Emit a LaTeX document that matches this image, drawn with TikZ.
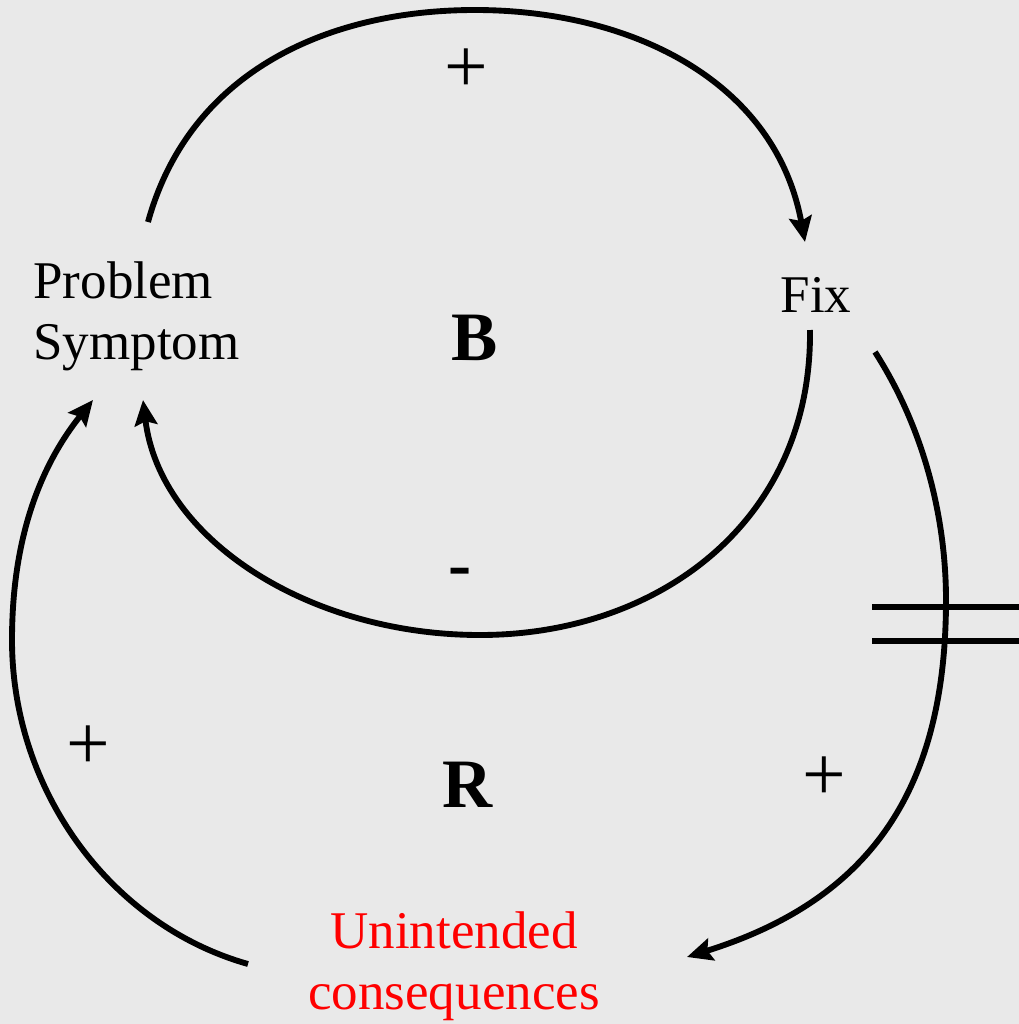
\documentclass[tikz,border=0pt]{standalone}
\usepackage{fontspec}
\setmainfont{Liberation Serif}
\usetikzlibrary{arrows.meta}
\definecolor{bgpaper}{RGB}{233,233,233}
\definecolor{redtxt}{RGB}{255,0,0}
\begin{document}
\begin{tikzpicture}[x=0.75pt,y=-0.75pt,
  loopline/.style={line width=4.4pt, line cap=butt},
  arr/.style={loopline, -{Stealth[length=19pt,width=17pt,inset=3pt]}},
  lbl/.style={inner sep=0pt, font=\fontsize{39.75}{46}\selectfont},
  big/.style={inner sep=0pt, font=\fontsize{52}{60}\selectfont\bfseries},
  sgn/.style={inner sep=0pt, font=\fontsize{58}{66}\selectfont},
  hash/.style={line width=4.6pt}]
\fill[bgpaper] (0,0) rectangle (1019,1024);
\useasboundingbox (0,0) rectangle (1019,1024);

% labels
\node[lbl, align=left] (ps) at (136.5,316) {Problem\\Symptom};
\node[lbl] (fix) at (816,295) {Fix};
\node[lbl, align=center, text=redtxt] (uc) at (454,966) {Unintended\\consequences};
\node[big] (B) at (475,337.5) {B};
\node[big] (R) at (468,785) {R};
\node[sgn] (ptop) at (466,71) {+};
\node[sgn] (pleft) at (88,748) {+};
\node[sgn] (pright) at (824,779) {+};
\node[big] (minus) at (460,578) {-};

% connector end points
\coordinate (a1) at (148,222);
\coordinate (a2) at (805,242);
\coordinate (b1) at (810,330);
\coordinate (b2) at (143,400);
\coordinate (c1) at (875,352);
\coordinate (c2) at (687,957);
\coordinate (d1) at (248,964);
\coordinate (d2) at (93,400);

% Problem symptom -> Fix (+)
\draw[arr] (a1) .. controls (190,70) and (330,10) .. (475,10)
                .. controls (630,10) and (775,80) .. (a2);
% Fix -> Problem symptom (-)
\draw[arr] (b1) .. controls (812,520) and (660,635) .. (480,635)
                .. controls (310,635) and (160,540) .. (b2);
% Fix -> Unintended consequences (+, delayed)
\draw[arr] (c1) .. controls (925,430) and (946,520) .. (946,600)
                .. controls (946,790) and (870,900) .. (c2);
% Unintended consequences -> Problem symptom (+)
\draw[arr] (d1) .. controls (110,925) and (12,790) .. (12,640)
                .. controls (12,530) and (45,460) .. (d2);

% delay mark
\coordinate (h1a) at (872,607);
\coordinate (h1b) at (1019,607);
\coordinate (h2a) at (872,641);
\coordinate (h2b) at (1019,641);
\draw[hash] (h1a) -- (h1b);
\draw[hash] (h2a) -- (h2b);
\end{tikzpicture}
\end{document}
